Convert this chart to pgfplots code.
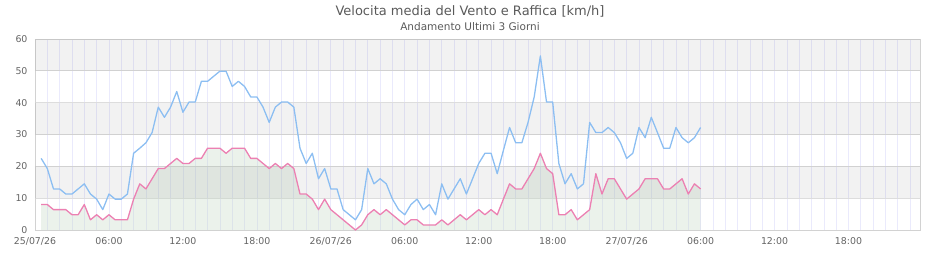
\documentclass[border=0pt]{standalone}
\usepackage{pgfplots}
\usepackage{pgfplotstable}
\pgfplotsset{compat=1.18}
\usepackage{fontspec}
\setmainfont{DejaVu Sans}
\definecolor{gustc}{RGB}{140,190,242}
\definecolor{avgc}{RGB}{236,128,178}
\definecolor{fillc}{RGB}{190,212,190}
\definecolor{hgrid}{RGB}{221,221,221}
\definecolor{vgrid}{RGB}{234,234,252}
\definecolor{framec}{RGB}{210,210,210}
\definecolor{tickc}{RGB}{100,100,100}
\definecolor{titlec}{RGB}{90,90,90}
\pgfplotstableread{
h avg gust
0.5 8.0 22.5
1 8.0 19.3
1.5 6.4 12.9
2 6.4 12.9
2.5 6.4 11.3
3 4.8 11.3
3.5 4.8 12.9
4 8.0 14.5
4.5 3.2 11.3
5 4.8 9.7
5.5 3.2 6.4
6 4.8 11.3
6.5 3.2 9.7
7 3.2 9.7
7.5 3.2 11.3
8 9.7 24.1
8.5 14.5 25.7
9 12.9 27.4
9.5 16.1 30.6
10 19.3 38.6
10.5 19.3 35.4
11 20.9 38.6
11.5 22.5 43.5
12 20.9 37.0
12.5 20.9 40.2
13 22.5 40.2
13.5 22.5 46.7
14 25.7 46.7
14.5 25.7 48.3
15 25.7 49.9
15.5 24.1 49.9
16 25.7 45.1
16.5 25.7 46.7
17 25.7 45.1
17.5 22.5 41.8
18 22.5 41.8
18.5 20.9 38.6
19 19.3 33.8
19.5 20.9 38.6
20 19.3 40.2
20.5 20.9 40.2
21 19.3 38.6
21.5 11.3 25.7
22 11.3 20.9
22.5 9.7 24.1
23 6.4 16.1
23.5 9.7 19.3
24 6.4 12.9
24.5 4.8 12.9
25 3.2 6.4
25.5 1.6 4.8
26 0.0 3.2
26.5 1.6 6.4
27 4.8 19.3
27.5 6.4 14.5
28 4.8 16.1
28.5 6.4 14.5
29 4.8 9.7
29.5 3.2 6.4
30 1.6 4.8
30.5 3.2 8.0
31 3.2 9.7
31.5 1.6 6.4
32 1.6 8.0
32.5 1.6 4.8
33 3.2 14.5
33.5 1.6 9.7
34 3.2 12.9
34.5 4.8 16.1
35 3.2 11.3
35.5 4.8 16.1
36 6.4 20.9
36.5 4.8 24.1
37 6.4 24.1
37.5 4.8 17.7
38 9.7 25.0
38.5 14.5 32.2
39 12.9 27.4
39.5 12.9 27.4
40 16.1 33.8
40.5 19.3 41.8
41 24.1 54.7
41.5 19.3 40.2
42 17.7 40.2
42.5 4.8 20.9
43 4.8 14.5
43.5 6.4 17.7
44 3.2 12.9
44.5 4.8 14.5
45 6.4 33.8
45.5 17.7 30.6
46 11.3 30.6
46.5 16.1 32.2
47 16.1 30.6
47.5 12.9 27.4
48 9.7 22.5
48.5 11.3 24.1
49 12.9 32.2
49.5 16.1 29.0
50 16.1 35.4
50.5 16.1 30.6
51 12.9 25.7
51.5 12.9 25.7
52 14.5 32.2
52.5 16.1 29.0
53 11.3 27.4
53.5 14.5 29.0
54 12.9 32.2
}\wind
\begin{document}
\begin{tikzpicture}
\begin{axis}[
  name=ax,
  scale only axis,
  width=885pt, height=191pt,
  xmin=0, xmax=71.8,
  ymin=0, ymax=60,
  xtick={0,6,...,66},
  xticklabels={25/07/26,06:00,12:00,18:00,26/07/26,06:00,12:00,18:00,27/07/26,06:00,12:00,18:00},
  minor xtick={1,...,71},
  ytick={0,10,...,60},
  /pgf/number format/assume math mode=true,
  xmajorgrids, xminorgrids, ymajorgrids,
  major x grid style={draw=vgrid, line width=0.7pt},
  minor x grid style={draw=vgrid, line width=0.7pt},
  major y grid style={draw=hgrid, line width=1pt},
  major tick length=0pt, minor tick length=0pt,
  axis line style={draw=framec, line width=0.9pt},
  tick label style={font=\fontsize{9.4}{11}\selectfont, text=tickc},
  yticklabel style={xshift=-4pt},
  xticklabel style={yshift=-4pt},
]
\addplot[draw=none, fill=fillc, fill opacity=0.3] table[x=h, y=avg] {\wind} \closedcycle;
\fill[black, opacity=0.05] (axis cs:0,50) rectangle (axis cs:71.8,60);
\fill[black, opacity=0.05] (axis cs:0,30) rectangle (axis cs:71.8,40);
\fill[black, opacity=0.05] (axis cs:0,10) rectangle (axis cs:71.8,20);
\addplot[gustc, line width=1.3pt, line join=round, mark=none] table[x=h, y=gust] {\wind};
\addplot[avgc, line width=1.3pt, line join=round, mark=none] table[x=h, y=avg] {\wind};
\end{axis}
\node[text=titlec, font=\fontsize{13}{15}\selectfont] at ([xshift=435pt, yshift=28pt]ax.north west) {Velocita media del Vento e Raffica [km/h]};
\node[text=titlec, font=\fontsize{10.5}{12}\selectfont] at ([xshift=435pt, yshift=12pt]ax.north west) {Andamento Ultimi 3 Giorni};
\path[use as bounding box] ([xshift=-35pt, yshift=-30pt]ax.south west) rectangle ([xshift=20pt, yshift=39pt]ax.north east);
\end{tikzpicture}
\end{document}
